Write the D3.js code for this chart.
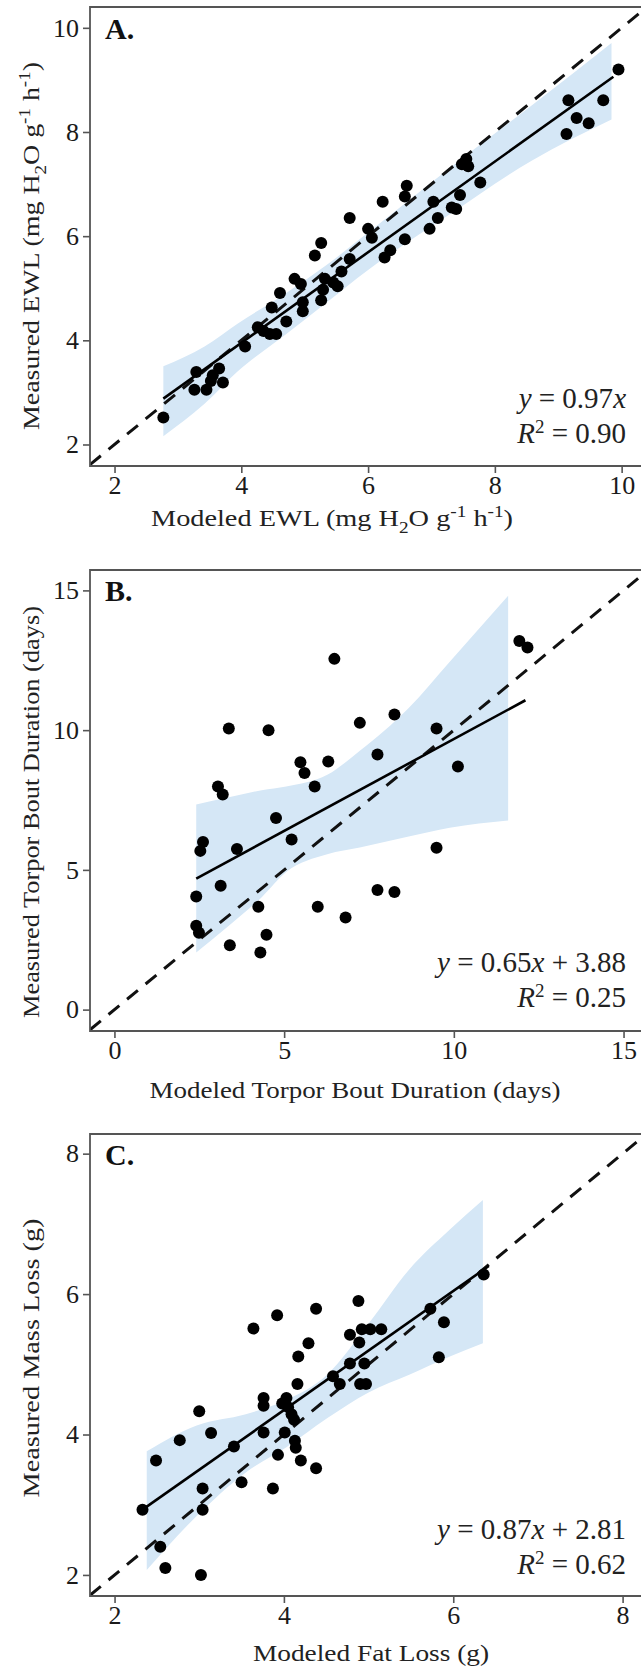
<!DOCTYPE html>
<html>
<head>
<meta charset="utf-8">
<script src="https://cdn.jsdelivr.net/npm/d3@7"></script>
<style>
  body { margin: 0; background: #fff; }
  svg { display: block; font-family: "Liberation Serif", "Times New Roman", serif; }
  .tick text { font-family: "Liberation Serif", "Times New Roman", serif; font-size: 26px; fill: #1a1a1a; }
</style>
</head>
<body>
<div id="chart"></div>
<script>
(function () {

  // Panel A: evaporative water loss
  const ewlModeled = [2.77, 3.29, 3.26, 3.45, 3.52, 3.65, 3.71, 3.55, 4.06, 4.26, 4.35, 4.45, 4.55, 4.48, 4.61, 4.71, 4.84, 4.94, 4.97, 4.97, 5.16, 5.26, 5.26, 5.29, 5.32, 5.45, 5.52, 5.58, 5.71, 5.71, 6.00, 6.06, 6.23, 6.26, 6.35, 6.58, 6.58, 6.61, 6.97, 7.03, 7.10, 7.32, 7.39, 7.45, 7.48, 7.55, 7.58, 7.77, 9.16, 9.13, 9.29, 9.48, 9.71, 9.95]
  const ewlMeasured = [2.52, 3.39, 3.05, 3.05, 3.22, 3.46, 3.19, 3.33, 3.88, 4.25, 4.18, 4.12, 4.12, 4.63, 4.91, 4.36, 5.18, 5.08, 4.56, 4.73, 5.63, 5.87, 4.77, 4.97, 5.18, 5.11, 5.04, 5.32, 6.35, 5.56, 6.14, 5.97, 6.66, 5.59, 5.73, 5.94, 6.76, 6.97, 6.14, 6.66, 6.35, 6.55, 6.52, 6.79, 7.38, 7.48, 7.34, 7.03, 8.61, 7.96, 8.27, 8.17, 8.61, 9.20]
  const ewlFitX = [2.77, 9.87]
  const ewlFitY = [2.88, 9.06]
  const ewlBandX = [2.77, 3.42, 3.94, 4.71, 5.35, 6.00, 7.29, 8.58, 9.84]
  const ewlBandHi = [3.50, 3.88, 4.32, 4.91, 5.45, 6.07, 7.31, 8.51, 9.71]
  const ewlBandLo = [2.16, 2.78, 3.40, 4.12, 4.73, 5.35, 6.42, 7.45, 8.24]
  const ewlTicks = [2, 4, 6, 8, 10]

  // Panel B: torpor bout duration
  const tbdModeled = [6.48, 11.93, 12.17, 3.37, 4.54, 7.23, 8.25, 9.49, 7.75, 5.48, 5.60, 6.30, 5.90, 3.05, 3.19, 10.12, 4.76, 5.22, 2.61, 2.53, 3.61, 9.49, 2.41, 3.13, 7.75, 8.25, 4.24, 5.99, 6.81, 2.41, 2.49, 4.48, 3.40, 4.30]
  const tbdMeasured = [12.55, 13.19, 12.96, 10.06, 10.00, 10.26, 10.56, 10.06, 9.13, 8.85, 8.47, 8.88, 7.98, 7.98, 7.70, 8.70, 6.86, 6.09, 6.00, 5.68, 5.75, 5.79, 4.05, 4.43, 4.28, 4.21, 3.68, 3.68, 3.30, 3.00, 2.75, 2.68, 2.30, 2.04]
  const tbdFitX = [2.41, 12.11]
  const tbdFitY = [4.69, 11.07]
  const tbdBandX = [2.41, 3.37, 4.34, 5.06, 6.27, 7.23, 8.67, 9.88, 11.60]
  const tbdBandHi = [7.34, 7.60, 7.85, 7.98, 8.40, 9.26, 10.79, 12.45, 14.81]
  const tbdBandLo = [2.04, 3.00, 4.02, 4.92, 5.56, 5.80, 6.19, 6.51, 6.77]
  const tbdTicks = [0, 5, 10, 15]

  // Panel C: fat / mass loss
  const fatModeled = [2.33, 2.49, 2.54, 2.60, 2.77, 3.00, 3.14, 3.04, 3.04, 3.02, 3.41, 3.50, 3.64, 3.76, 3.76, 3.76, 3.87, 3.92, 3.93, 4.01, 3.98, 4.03, 4.05, 4.09, 4.12, 4.13, 4.14, 4.20, 4.16, 4.17, 4.29, 4.38, 4.38, 4.58, 4.66, 4.78, 4.78, 4.89, 4.88, 4.90, 4.97, 4.92, 5.02, 5.15, 4.95, 5.73, 5.89, 5.83, 6.36]
  const massMeasured = [2.93, 3.63, 2.40, 2.10, 3.92, 4.33, 4.02, 3.23, 2.93, 2.00, 3.83, 3.32, 5.51, 4.03, 4.52, 4.41, 3.23, 5.70, 3.71, 4.03, 4.44, 4.52, 4.39, 4.29, 4.21, 3.91, 3.81, 3.63, 4.72, 5.11, 5.30, 5.79, 3.52, 4.83, 4.72, 5.01, 5.42, 5.31, 5.90, 4.72, 4.72, 5.50, 5.50, 5.50, 5.01, 5.79, 5.60, 5.10, 6.28]
  const fatFitX = [2.33, 6.42]
  const fatFitY = [2.93, 6.40]
  const fatBandX = [2.38, 2.97, 3.55, 4.03, 4.51, 5.00, 5.48, 5.96, 6.35]
  const fatBandHi = [3.76, 4.13, 4.29, 4.49, 4.85, 5.58, 6.35, 6.92, 7.34]
  const fatBandLo = [2.07, 2.84, 3.46, 3.82, 4.23, 4.60, 4.85, 5.11, 5.30]
  const fatTicks = [2, 4, 6, 8]

  const W = 641, H = 1667
  const svg = d3.select('#chart').append('svg').attr('width', W).attr('height', H)

  const zip = (a, b) => a.map((v, i) => [v, b[i]])

  const panels = [
    {
      id: 'a', letter: 'A.',
      box: { left: 90, right: 647, top: 7, bottom: 466 },
      xDom: [1.613, 10.4], yDom: [1.587, 10.4], ticks: ewlTicks,
      pts: zip(ewlModeled, ewlMeasured), fit: zip(ewlFitX, ewlFitY),
      band: ewlBandX.map((x, i) => ({ x, lo: ewlBandLo[i], hi: ewlBandHi[i] })),
      xTitle: [['Modeled EWL (mg H', 0], ['2', 1], ['O g', 0], ['-1', -1], [' h', 0], ['-1', -1], [')', 0]],
      yTitle: [['Measured EWL (mg H', 0], ['2', 1], ['O g', 0], ['-1', -1], [' h', 0], ['-1', -1], [')', 0]],
      xTitleX: 332, xTitleY: 526, yTitleC: 246, xTitleLen: 362, yTitleLen: 368,
      eq: ['y', ' = 0.97', 'x', ''], r2: '0.90', eqY: 408
    },
    {
      id: 'b', letter: 'B.',
      box: { left: 90, right: 649, top: 570, bottom: 1031 },
      xDom: [-0.72, 15.75], yDom: [-0.765, 15.73], ticks: tbdTicks,
      pts: zip(tbdModeled, tbdMeasured), fit: zip(tbdFitX, tbdFitY),
      band: tbdBandX.map((x, i) => ({ x, lo: tbdBandLo[i], hi: tbdBandHi[i] })),
      xTitle: [['Modeled Torpor Bout Duration (days)', 0]],
      yTitle: [['Measured Torpor Bout Duration (days)', 0]],
      xTitleX: 355, xTitleY: 1098, yTitleC: 812, xTitleLen: 411, yTitleLen: 412,
      eq: ['y', ' = 0.65', 'x', ' + 3.88'], r2: '0.25', eqY: 972
    },
    {
      id: 'c', letter: 'C.',
      box: { left: 90, right: 648, top: 1134, bottom: 1596 },
      xDom: [1.71, 8.3], yDom: [1.70, 8.28], ticks: fatTicks,
      pts: zip(fatModeled, massMeasured), fit: zip(fatFitX, fatFitY),
      band: fatBandX.map((x, i) => ({ x, lo: fatBandLo[i], hi: fatBandHi[i] })),
      xTitle: [['Modeled Fat Loss (g)', 0]],
      yTitle: [['Measured Mass Loss (g)', 0]],
      xTitleX: 371, xTitleY: 1661, yTitleC: 1358, xTitleLen: 236, yTitleLen: 279,
      eq: ['y', ' = 0.87', 'x', ' + 2.81'], r2: '0.62', eqY: 1539
    }
  ]

  // Escribe un texto con sub/superíndices
  const richText = (sel, parts, size) => {
    let shift = 0
    parts.forEach(([t, kind]) => {
      const target = kind === 0 ? 0 : (kind === 1 ? size * 0.3 : -size * 0.38)
      sel.append('tspan')
        .attr('dy', target - shift)
        .attr('font-size', kind === 0 ? size : size * 0.68)
        .text(t)
      shift = target
    })
  }

  panels.forEach(p => {
    const b = p.box
    const x = d3.scaleLinear().domain(p.xDom).range([b.left, b.right])
    const y = d3.scaleLinear().domain(p.yDom).range([b.bottom, b.top])

    svg.append('clipPath').attr('id', `clip-${p.id}`)
      .append('rect')
      .attr('x', b.left).attr('y', b.top)
      .attr('width', b.right - b.left).attr('height', b.bottom - b.top)

    const g = svg.append('g').attr('clip-path', `url(#clip-${p.id})`)

    // Banda de confianza
    g.append('path')
      .datum(p.band)
      .attr('fill', '#d5e7f6')
      .attr('d', d3.area().curve(d3.curveMonotoneX).x(d => x(d.x)).y0(d => y(d.lo)).y1(d => y(d.hi)))

    // Línea 1:1
    g.append('line')
      .attr('x1', x(p.xDom[0])).attr('y1', y(p.xDom[0]))
      .attr('x2', x(p.xDom[1])).attr('y2', y(p.xDom[1]))
      .attr('stroke', '#111').attr('stroke-width', 3)
      .attr('stroke-dasharray', '14,10')

    // Regresión
    g.append('path')
      .datum(p.fit)
      .attr('fill', 'none').attr('stroke', '#000').attr('stroke-width', 2.6)
      .attr('d', d3.line().x(d => x(d[0])).y(d => y(d[1])))

    // Puntos
    g.selectAll('circle')
      .data(p.pts)
      .join('circle')
      .attr('cx', d => x(d[0]))
      .attr('cy', d => y(d[1]))
      .attr('r', 6)
      .attr('fill', '#000')

    // Marco
    svg.append('path')
      .attr('d', `M${b.right},${b.top}H${b.left}V${b.bottom}H${b.right}`)
      .attr('fill', 'none').attr('stroke', '#555').attr('stroke-width', 1.8)

    // Ejes
    const xAxis = svg.append('g')
      .attr('transform', `translate(0,${b.bottom})`)
      .call(d3.axisBottom(x).tickValues(p.ticks).tickSize(7).tickPadding(3).tickFormat(d3.format('d')))
    const yAxis = svg.append('g')
      .attr('transform', `translate(${b.left},0)`)
      .call(d3.axisLeft(y).tickValues(p.ticks).tickSize(7).tickPadding(4).tickFormat(d3.format('d')))
    ;[xAxis, yAxis].forEach(a => {
      a.attr('font-family', null).attr('font-size', null)
      a.select('.domain').remove()
      a.selectAll('.tick line').attr('stroke', '#555').attr('stroke-width', 1.6)
    })

    // Letra del panel
    svg.append('text')
      .attr('x', b.left + 15).attr('y', y(p.ticks[p.ticks.length - 1]) + 11)
      .attr('font-size', 30).attr('font-weight', 'bold').attr('fill', '#111')
      .text(p.letter)

    // Títulos de ejes
    const xt = svg.append('text')
      .attr('x', p.xTitleX)
      .attr('y', p.xTitleY)
      .attr('text-anchor', 'middle').attr('fill', '#222')
    richText(xt, p.xTitle, 24)
    xt.attr('textLength', p.xTitleLen).attr('lengthAdjust', 'spacingAndGlyphs')

    const yt = svg.append('text')
      .attr('transform', `translate(39,${p.yTitleC}) rotate(-90)`)
      .attr('text-anchor', 'middle').attr('fill', '#222')
    richText(yt, p.yTitle, 24)
    yt.attr('textLength', p.yTitleLen).attr('lengthAdjust', 'spacingAndGlyphs')

    // Ecuación y R²
    const eq = svg.append('text')
      .attr('x', 626).attr('y', p.eqY)
      .attr('text-anchor', 'end').attr('font-size', 29).attr('fill', '#222')
    eq.append('tspan').attr('font-style', 'italic').text(p.eq[0])
    eq.append('tspan').text(p.eq[1])
    eq.append('tspan').attr('font-style', 'italic').text(p.eq[2])
    if (p.eq[3]) eq.append('tspan').text(p.eq[3])

    const r2 = svg.append('text')
      .attr('x', 626).attr('y', p.eqY + 35)
      .attr('text-anchor', 'end').attr('font-size', 29).attr('fill', '#222')
    r2.append('tspan').attr('font-style', 'italic').text('R')
    r2.append('tspan').attr('font-size', 19).attr('dy', -10).text('2')
    r2.append('tspan').attr('dy', 10).text(' = ' + p.r2)
  })
})()
</script>
</body>
</html>
